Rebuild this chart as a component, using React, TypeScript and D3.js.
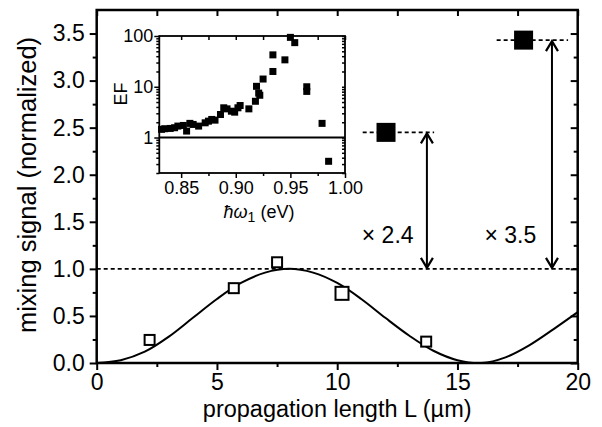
import { useEffect, useRef } from "react";
import * as d3 from "d3";

// open squares: measured mixing signal vs propagation length
const lengthUm = [2.2, 5.7, 7.5, 10.2, 13.7];
const signal = [0.245, 0.795, 1.07, 0.74, 0.227];
const signalSize = [10, 10, 10, 13, 10];

// sin^2 fit at every micron
const fitL = [0, 1, 2, 3, 4, 5, 6, 7, 8, 9, 10, 11, 12, 13, 14, 15, 16, 17, 18, 19, 20];
const fitY = [0.0, 0.03, 0.12, 0.28, 0.48, 0.68, 0.85, 0.96, 1.0, 0.96, 0.85, 0.68, 0.48, 0.29, 0.13, 0.03, 0.0, 0.06, 0.19, 0.36, 0.54];

// enhanced signal (filled squares) and their annotations
const enhancedL = [12.03, 17.75];
const enhancedY = [2.45, 3.43];
const enhancedText = ["\u00d7 2.4", "\u00d7 3.5"];
const arrowL = [13.73, 18.93];
const textL = [12.1, 17.2];
const dashFrom = [11.06, 16.63];
const dashTo = [14.03, 19.6];

// inset: enhancement factor vs photon energy
const efEnergy = [0.832, 0.835, 0.84, 0.844, 0.847, 0.852, 0.855, 0.858, 0.861, 0.866, 0.872, 0.875, 0.878, 0.881, 0.886, 0.889, 0.892, 0.896, 0.899, 0.902, 0.904, 0.912, 0.918, 0.919, 0.921, 0.922, 0.925, 0.934, 0.934, 0.945, 0.95, 0.954, 0.965, 0.965, 0.979, 0.985];
const efValue = [1.45, 1.49, 1.51, 1.56, 1.68, 1.73, 1.34, 1.9, 1.81, 1.68, 1.95, 2.1, 2.27, 2.2, 2.84, 3.85, 3.67, 3.3, 3.16, 3.85, 4.27, 3.67, 5.18, 10.2, 7.5, 6.8, 14.2, 20, 42.5, 33.9, 94, 74, 10.0, 8.1, 1.9, 0.34];

const xTicks = [0, 5, 10, 15, 20];
const xMinor = [2.5, 7.5, 12.5, 17.5];
const yTicks = [0, 0.5, 1, 1.5, 2, 2.5, 3, 3.5];
const yMinor = [0.25, 0.75, 1.25, 1.75, 2.25, 2.75, 3.25];
const insetXTicks = [0.85, 0.9, 0.95, 1.0];
const insetXMinor = [0.875, 0.925, 0.975];
const insetYTicks = [1, 10, 100];
const insetYMinor = [0.2, 0.3, 0.4, 0.5, 0.6, 0.7, 0.8, 0.9, 2, 3, 4, 5, 6, 7, 8, 9, 20, 30, 40, 50, 60, 70, 80, 90];

const FONT = "'Liberation Sans', Arial, sans-serif";

function App() {
  const svgRef = useRef<SVGSVGElement>(null);

  useEffect(() => {
    const svg = d3.select(svgRef.current);
    svg.selectAll("*").remove();

    const x = d3.scaleLinear().domain([0, 20]).range([96.7, 577.7]);
    const y = d3.scaleLinear().domain([0, 3.75]).range([363, 10]);

    const styleAxis = (g: any, size: number) => {
      g.select(".domain").remove();
      g.selectAll("line").attr("stroke", "#000").attr("stroke-width", 2);
      g.selectAll("text").attr("font-family", FONT).attr("font-size", size).attr("fill", "#000");
    };

    // main axes
    svg.append("g").attr("transform", "translate(0,363)")
      .call(d3.axisBottom(x).tickValues(xTicks).tickSize(7).tickPadding(4).tickFormat(d3.format("d")))
      .call((g) => styleAxis(g, 23));
    svg.append("g").attr("transform", "translate(0,363)")
      .call(d3.axisBottom(x).tickValues(xMinor).tickSize(4).tickFormat(() => ""))
      .call((g) => styleAxis(g, 23));
    svg.append("g").attr("transform", "translate(96.7,0)")
      .call(d3.axisLeft(y).tickValues(yTicks).tickSize(7).tickPadding(5).tickFormat(d3.format(".1f")))
      .call((g) => styleAxis(g, 23));
    svg.append("g").attr("transform", "translate(96.7,0)")
      .call(d3.axisLeft(y).tickValues(yMinor).tickSize(4).tickFormat(() => ""))
      .call((g) => styleAxis(g, 23));
    svg.append("g").attr("transform", "translate(0,10)")
      .call(d3.axisTop(x).tickValues(xTicks.concat(xMinor)).tickSize(-6).tickFormat(() => ""))
      .call((g) => styleAxis(g, 23));
    svg.append("g").attr("transform", "translate(577.7,0)")
      .call(d3.axisRight(y).tickValues(yTicks).tickSize(-7).tickFormat(() => ""))
      .call((g) => styleAxis(g, 23));
    svg.append("g").attr("transform", "translate(577.7,0)")
      .call(d3.axisRight(y).tickValues(yMinor).tickSize(-4).tickFormat(() => ""))
      .call((g) => styleAxis(g, 23));

    svg.append("rect")
      .attr("x", x(0)).attr("y", y(3.75))
      .attr("width", x(20) - x(0)).attr("height", y(0) - y(3.75))
      .attr("fill", "none").attr("stroke", "#000").attr("stroke-width", 2.5);

    // axis titles
    svg.append("text")
      .attr("x", (x(0) + x(20)) / 2).attr("y", 417)
      .attr("text-anchor", "middle").attr("font-family", FONT).attr("font-size", 23.5)
      .text("propagation length L (\u00b5m)");
    svg.append("text")
      .attr("transform", "translate(36,185) rotate(-90)")
      .attr("text-anchor", "middle").attr("font-family", FONT).attr("font-size", 25.5)
      .text("mixing signal (normalized)");

    // reference level
    svg.append("line")
      .attr("x1", x(0)).attr("x2", x(20)).attr("y1", y(1)).attr("y2", y(1))
      .attr("stroke", "#000").attr("stroke-width", 1.6).attr("stroke-dasharray", "4,3");

    // fit curve
    const line = d3.line<number>()
      .x((_, i) => x(fitL[i]))
      .y((d) => y(d))
      .curve(d3.curveCatmullRom);
    svg.append("path")
      .attr("d", line(fitY))
      .attr("fill", "none").attr("stroke", "#000").attr("stroke-width", 2);

    // open squares
    svg.selectAll(".open")
      .data(signal)
      .join("rect")
      .attr("x", (d, i) => x(lengthUm[i]) - signalSize[i] / 2)
      .attr("y", (d, i) => y(d) - signalSize[i] / 2)
      .attr("width", (d, i) => signalSize[i])
      .attr("height", (d, i) => signalSize[i])
      .attr("fill", "#fff").attr("stroke", "#000").attr("stroke-width", 2);

    // enhanced points, dashes, arrows and labels
    enhancedY.forEach((v, i) => {
      svg.append("line")
        .attr("x1", x(dashFrom[i])).attr("x2", x(dashTo[i])).attr("y1", y(v)).attr("y2", y(v))
        .attr("stroke", "#000").attr("stroke-width", 1.6).attr("stroke-dasharray", "4,3");
      svg.append("rect")
        .attr("x", x(enhancedL[i]) - 9.5).attr("y", y(v) - 9.5)
        .attr("width", 19).attr("height", 19).attr("fill", "#000");
      const ax = x(arrowL[i]);
      const top = y(v) + 1;
      const bot = y(1) - 1;
      svg.append("line")
        .attr("x1", ax).attr("x2", ax).attr("y1", top).attr("y2", bot)
        .attr("stroke", "#000").attr("stroke-width", 2);
      svg.append("path")
        .attr("d", `M${ax - 6},${top + 10}L${ax},${top}L${ax + 6},${top + 10}M${ax - 6},${bot - 10}L${ax},${bot}L${ax + 6},${bot - 10}`)
        .attr("fill", "none").attr("stroke", "#000").attr("stroke-width", 2.2);
      svg.append("text")
        .attr("x", x(textL[i])).attr("y", y(1.27))
        .attr("text-anchor", "middle").attr("font-family", FONT).attr("font-size", 23)
        .text(enhancedText[i]);
    });

    // inset
    const ix = d3.scaleLinear().domain([0.83, 1.0]).range([159.3, 345]);
    const iy = d3.scaleLog().domain([0.2, 100]).range([173, 36]);
    const inset = svg.append("g");

    inset.append("rect")
      .attr("x", ix(0.83)).attr("y", iy(100))
      .attr("width", ix(1.0) - ix(0.83)).attr("height", iy(0.2) - iy(100))
      .attr("fill", "#fff");

    const styleInset = (g: any) => {
      g.select(".domain").remove();
      g.selectAll("line").attr("stroke", "#000").attr("stroke-width", 1.5);
      g.selectAll("text").attr("font-family", FONT).attr("font-size", 18).attr("fill", "#000");
    };
    inset.append("g").attr("transform", `translate(0,${iy(0.2)})`)
      .call(d3.axisBottom(ix).tickValues(insetXTicks).tickSize(5).tickPadding(3).tickFormat(d3.format(".2f")))
      .call(styleInset);
    inset.append("g").attr("transform", `translate(0,${iy(0.2)})`)
      .call(d3.axisBottom(ix).tickValues(insetXMinor).tickSize(3).tickFormat(() => ""))
      .call(styleInset);
    inset.append("g").attr("transform", `translate(0,${iy(100)})`)
      .call(d3.axisTop(ix).tickValues(insetXTicks.concat(insetXMinor)).tickSize(-4).tickFormat(() => ""))
      .call(styleInset);
    inset.append("g").attr("transform", `translate(${ix(0.83)},0)`)
      .call(d3.axisLeft(iy).tickValues(insetYTicks).tickSize(5).tickPadding(1).tickFormat(d3.format("d")))
      .call(styleInset);
    inset.append("g").attr("transform", `translate(${ix(0.83)},0)`)
      .call(d3.axisLeft(iy).tickValues(insetYMinor).tickSize(3).tickFormat(() => ""))
      .call(styleInset);
    inset.append("g").attr("transform", `translate(${ix(1.0)},0)`)
      .call(d3.axisRight(iy).tickValues(insetYTicks.concat(insetYMinor)).tickSize(-3).tickFormat(() => ""))
      .call(styleInset);

    inset.append("line")
      .attr("x1", ix(0.83)).attr("x2", ix(1.0)).attr("y1", iy(1)).attr("y2", iy(1))
      .attr("stroke", "#000").attr("stroke-width", 2);

    inset.selectAll(".ef")
      .data(efValue)
      .join("rect")
      .attr("x", (d, i) => ix(efEnergy[i]) - 3.5)
      .attr("y", (d) => iy(d) - 3.5)
      .attr("width", 7).attr("height", 7).attr("fill", "#000");

    inset.append("rect")
      .attr("x", ix(0.83)).attr("y", iy(100))
      .attr("width", ix(1.0) - ix(0.83)).attr("height", iy(0.2) - iy(100))
      .attr("fill", "none").attr("stroke", "#000").attr("stroke-width", 1.8);

    inset.append("text")
      .attr("transform", "translate(127,94) rotate(-90)")
      .attr("text-anchor", "middle").attr("font-family", FONT).attr("font-size", 18)
      .text("EF");

    const xl = inset.append("text")
      .attr("x", 259).attr("y", 218)
      .attr("text-anchor", "middle").attr("font-family", FONT).attr("font-size", 18);
    xl.append("tspan").attr("font-style", "italic").text("\u0127\u03c9");
    xl.append("tspan").attr("dy", 4).attr("font-size", 14).text("1");
    xl.append("tspan").attr("dy", -4).text(" (eV)");
  }, []);

  return (
    <svg ref={svgRef} width={602} height={427}
      style={{ position: "absolute", left: 0, top: 0, background: "#fff" }} />
  );
}

export default App;
